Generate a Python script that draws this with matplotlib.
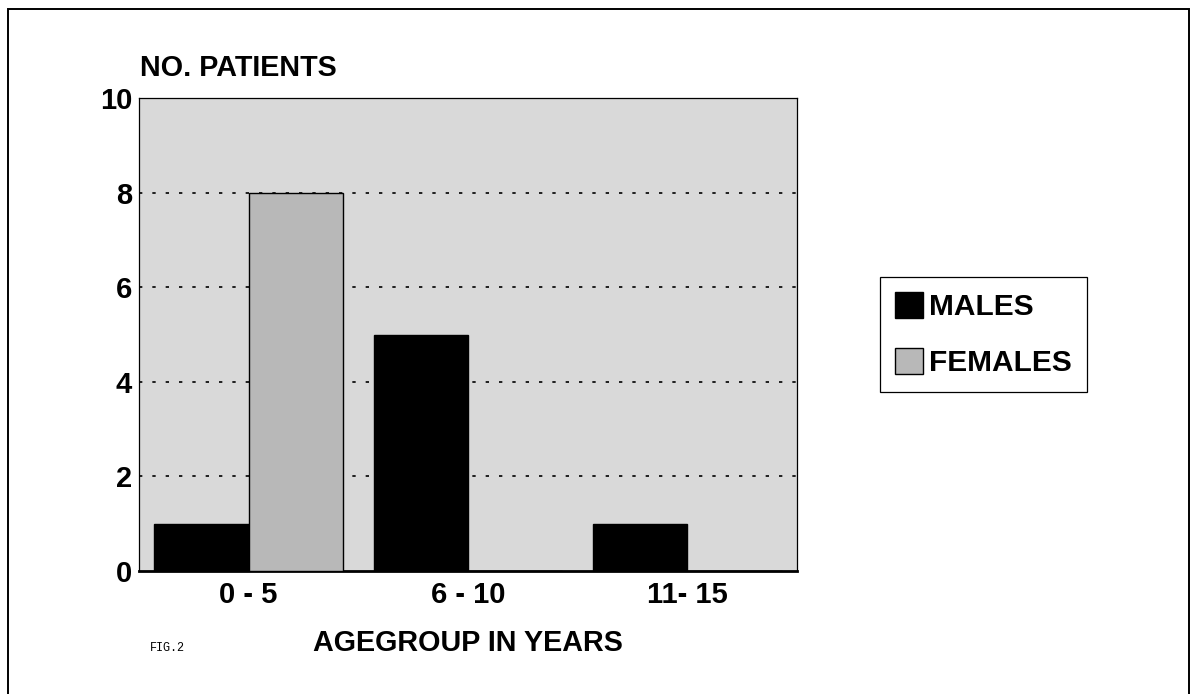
import numpy as np
import matplotlib
matplotlib.use("Agg")
import matplotlib.pyplot as plt
from matplotlib.patches import Patch, Rectangle

# data
agegroups = ["0 - 5", "6 - 10", "11- 15"]
males = [1, 5, 1]
females = [8, 0, 0]
yticks = [0, 2, 4, 6, 8, 10]

plt.rcParams['font.family'] = ['Liberation Sans', 'DejaVu Sans']
plt.rcParams['font.weight'] = 'bold'

W, H = 1198, 694
fig = plt.figure(figsize=(W / 100, H / 100), dpi=100)
fig.patch.set_facecolor("white")

# page border (left, top, right)
fig.add_artist(Rectangle((8 / W, -0.05), (1189 - 8) / W, 1.05 - 9 / H,
                         transform=fig.transFigure, fill=False,
                         edgecolor="black", linewidth=1.4))

ax = fig.add_axes([139 / W, (H - 571) / H, 658 / W, (571 - 98) / H])
ax.set_facecolor("#d9d9d9")

x = np.arange(len(agegroups))
w = 0.43
ax.bar(x - w / 2, males, width=w, color="black", edgecolor="black",
       linewidth=1.0, zorder=3)
ax.bar(x + w / 2, females, width=w, color="#b8b8b8", edgecolor="black",
       linewidth=1.0, zorder=3)

ax.set_xlim(-0.5, 2.5)
ax.set_ylim(0, 10)
ax.set_yticks(yticks)
ax.set_xticks(x)
ax.set_xticklabels(agegroups)
for yv in yticks[1:-1]:
    ax.axhline(yv, color="black", linestyle=(0, (2, 6)), linewidth=1.2,
               zorder=2)

for s in ["top", "right", "left"]:
    ax.spines[s].set_linewidth(0.9)
ax.spines["bottom"].set_linewidth(2.0)
ax.tick_params(axis="both", length=0, labelsize=21)
ax.tick_params(axis="y", pad=5)
ax.tick_params(axis="x", pad=7)

fig.text(140 / W, 1 - 68 / H, "NO. PATIENTS", fontsize=20.7,
         ha="left", va="center")
fig.text(468 / W, 1 - 643 / H, "AGEGROUP IN YEARS", fontsize=20.7,
         ha="center", va="center")
fig.text(150 / W, 1 - 648 / H, "FIG.2", fontsize=8.5, fontweight="normal",
         family="Liberation Mono", ha="left", va="center")

handles = [Patch(facecolor="black", edgecolor="black", label="MALES"),
           Patch(facecolor="#b8b8b8", edgecolor="black", label="FEMALES")]
leg = fig.legend(handles=handles, loc="upper left",
                 bbox_to_anchor=(880 / W, 1 - 277 / H),
                 bbox_transform=fig.transFigure, fontsize=21.5,
                 handlelength=0.95, handleheight=0.95, handletextpad=0.2,
                 borderpad=0.5, labelspacing=0.9, borderaxespad=0,
                 fancybox=False, framealpha=1.0, edgecolor="black")
leg.get_frame().set_linewidth(0.9)

fig.savefig("out.png", dpi=100)
